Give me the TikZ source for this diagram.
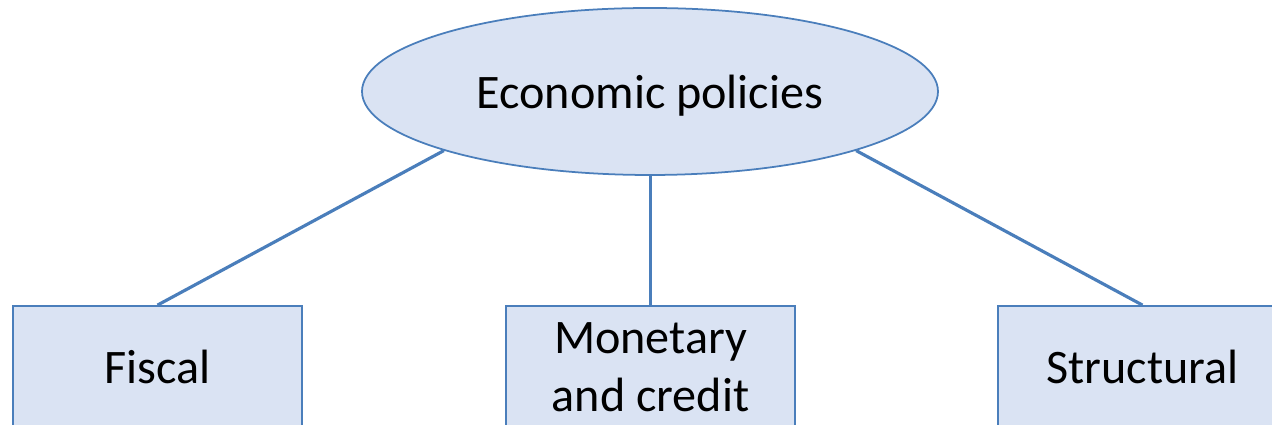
\documentclass[tikz,border=0pt]{standalone}
\usepackage{fontspec}
\setmainfont{Carlito}
\usetikzlibrary{shapes.geometric}
\definecolor{boxfill}{HTML}{DAE3F3}
\definecolor{boxline}{HTML}{4A7EBB}
\begin{document}
\begin{tikzpicture}[
    policy/.style={draw=boxline, line width=0.5pt, fill=boxfill, font=\fontsize{13.7}{16.4}\selectfont},
    kind/.style={policy, rectangle, minimum width=2.89cm, minimum height=1.22cm, align=center, inner sep=0pt},
    link/.style={draw=boxline, line width=0.9pt}]
    \useasboundingbox (0,0) rectangle (12.72,4.25);
    \clip (0,0) rectangle (12.72,4.25);
    \node[policy, ellipse, minimum width=5.76cm, minimum height=1.67cm, inner sep=0pt, text depth=0pt] (eco) at (6.50,3.335) {Economic policies};
    \node[kind] (fiscal) at (1.575,0.58) {Fiscal};
    \node[kind] (monetary) at (6.505,0.58) {Monetary\\and credit};
    \node[kind] (structural) at (11.425,0.58) {Structural};
        \draw[link] (eco.196)--(fiscal.north);
        \draw[link] (eco.south-|monetary.north)--(monetary.north);
        \draw[link] (eco.344)--(structural.north);
    \end{tikzpicture}
\end{document}
